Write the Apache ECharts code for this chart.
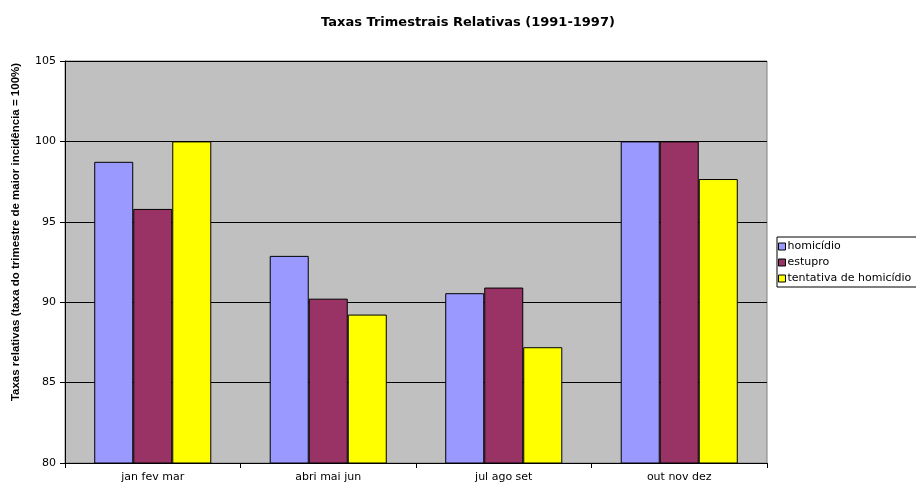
<!DOCTYPE html>
<html><head><meta charset="utf-8">
<script src="https://cdn.jsdelivr.net/npm/echarts@6/dist/echarts.min.js"></script>
<style>html,body{margin:0;padding:0;background:#fff}#c{width:916px;height:486px}</style>
</head><body><div id="c"></div>
<script>
var categories = ['jan fev mar', 'abri mai jun', 'jul ago set', 'out nov dez'];
var homicidio = [98.73, 92.88, 90.56, 100];
var estupro = [95.8, 90.22, 90.91, 100];
var tentativa = [100, 89.23, 87.2, 97.66];
var seriesNames = ['homicídio', 'estupro', 'tentativa de homicídio'];
var yTicks = {min: 80, max: 105, interval: 5};
var yName = 'Taxas relativas (taxa do trimestre de maior incidência = 100%)';

var chart = echarts.init(document.getElementById('c'));
var font = 'DejaVu Sans, sans-serif';
var font2 = 'Liberation Sans, Arial, sans-serif';
function bar(name, data, color) {
  return {
    name: name, type: 'bar', data: data, barGap: 0, barCategoryGap: '33.3%',
    itemStyle: {color: color, borderColor: '#000', borderWidth: 1},
    emphasis: {disabled: true}
  };
}
chart.setOption({
  animation: false,
  backgroundColor: '#fff',
  title: {
    text: 'Taxas Trimestrais Relativas (1991-1997)', left: 463, top: 11, textAlign: 'center',
    textStyle: {fontFamily: font, fontSize: 13, fontWeight: 'bold', color: '#000'}
  },
  graphic: [{
    type: 'text', x: 16, y: 232, rotation: Math.PI / 2,
    style: {text: yName, fontFamily: font2, fontSize: 11.5, fontWeight: 'bold', fill: '#000',
      align: 'center', verticalAlign: 'middle'}
  }],
  legend: {
    orient: 'vertical', left: 777, top: 237, itemWidth: 7, itemHeight: 7, itemGap: 5,
    padding: [4, 40, 3, 1], borderColor: '#000', borderWidth: 1, backgroundColor: '#fff',
    icon: 'rect', data: seriesNames,
    textStyle: {fontFamily: font, fontSize: 11, color: '#000', padding: [0, 0, 0, -3]},
    itemStyle: {borderColor: '#000', borderWidth: 1}
  },
  grid: {left: 65, right: 149, top: 61, bottom: 23, show: true, backgroundColor: '#C0C0C0', borderColor: '#808080', borderWidth: 1},
  xAxis: {
    type: 'category', data: categories,
    axisLine: {lineStyle: {color: '#000', width: 1}},
    axisTick: {show: true, length: 5, lineStyle: {color: '#000'}},
    axisLabel: {fontFamily: font, fontSize: 11, color: '#000', margin: 9}
  },
  yAxis: {
    type: 'value', min: yTicks.min, max: yTicks.max, interval: yTicks.interval,
    axisLine: {show: true, lineStyle: {color: '#000', width: 1}},
    axisTick: {show: true, length: 5, lineStyle: {color: '#000'}},
    axisLabel: {fontFamily: font, fontSize: 11, color: '#000', margin: 9},
    splitLine: {show: true, lineStyle: {color: '#000', width: 1}}
  },
  series: [
    bar(seriesNames[0], homicidio, '#9999FF'),
    bar(seriesNames[1], estupro, '#993366'),
    bar(seriesNames[2], tentativa, '#FFFF00')
  ]
});
</script></body></html>
